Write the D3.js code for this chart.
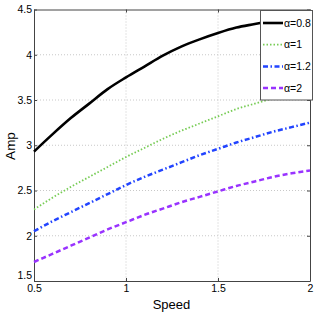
<!DOCTYPE html>
<html>
<head>
<meta charset="utf-8">
<script src="https://cdn.jsdelivr.net/npm/d3@7"></script>
<style>
  body { margin: 0; background: #fff; }
  text { font-family: "Liberation Sans", Arial, sans-serif; }
</style>
</head>
<body>
<div id="container"></div>
<script>
// Data
let speed = [0.5, 0.6, 0.7, 0.8, 0.9, 1.0, 1.1, 1.2, 1.3, 1.4, 1.5, 1.6, 1.7, 1.8, 1.9, 2.0];
let amp08 = [2.93, 3.12, 3.30, 3.46, 3.62, 3.75, 3.87, 3.99, 4.09, 4.17, 4.24, 4.30, 4.34, 4.38, 4.42, 4.45];
let amp1 = [2.29, 2.42, 2.54, 2.65, 2.76, 2.87, 2.97, 3.07, 3.16, 3.24, 3.32, 3.40, 3.46, 3.52, 3.58, 3.64];
let amp12 = [2.05, 2.16, 2.26, 2.36, 2.46, 2.56, 2.65, 2.73, 2.81, 2.89, 2.96, 3.03, 3.09, 3.15, 3.20, 3.25];
let amp2 = [1.71, 1.80, 1.89, 1.98, 2.07, 2.15, 2.23, 2.30, 2.37, 2.43, 2.49, 2.55, 2.60, 2.65, 2.69, 2.72];
let seriesNames = ["α=0.8", "α=1", "α=1.2", "α=2"];
let xTicks = [0.5, 1, 1.5, 2];
let yTicks = [1.5, 2, 2.5, 3, 3.5, 4, 4.5];

let width = 316, height = 316;
let plotLeft = 34, plotRight = 310, plotTop = 9.5, plotBottom = 281;

// line styles per series
let styles = [
  { color: "#000000", dash: null, w: 2.6 },
  { color: "#77cc55", dash: "1.5,2", w: 1.8 },
  { color: "#2244ff", dash: "5,2.5,1.5,2.5", w: 2.5 },
  { color: "#9933ff", dash: "5,3", w: 2.5 }
];
let allSeries = [amp08, amp1, amp12, amp2];

let x = d3.scaleLinear().domain([0.5, 2]).range([plotLeft, plotRight]);
let y = d3.scaleLinear().domain([1.5, 4.5]).range([plotBottom, plotTop]);

let svg = d3.create("svg")
  .attr("width", width)
  .attr("height", height);
document.getElementById("container").append(svg.node());

// grid lines
svg.append("g").selectAll("line")
  .data(xTicks.slice(1, -1))
  .enter().append("line")
  .attr("x1", d => x(d)).attr("x2", d => x(d))
  .attr("y1", plotTop).attr("y2", plotBottom)
  .attr("stroke", "#c8c8c8").attr("stroke-dasharray", "1,2");
svg.append("g").selectAll("line")
  .data(yTicks.slice(1, -1))
  .enter().append("line")
  .attr("y1", d => y(d)).attr("y2", d => y(d))
  .attr("x1", plotLeft).attr("x2", plotRight)
  .attr("stroke", "#c8c8c8").attr("stroke-dasharray", "1,2");

// axes (inward ticks)
let xAxis = svg.append("g")
  .attr("transform", `translate(0,${plotBottom})`)
  .call(d3.axisBottom(x).tickValues(xTicks).tickSizeInner(-3).tickSizeOuter(0).tickFormat(d3.format("")));
let yAxis = svg.append("g")
  .attr("transform", `translate(${plotLeft},0)`)
  .call(d3.axisLeft(y).tickValues(yTicks).tickSizeInner(-3).tickSizeOuter(0).tickFormat(d3.format("")));
svg.append("g")
  .attr("transform", `translate(0,${plotTop})`)
  .call(d3.axisTop(x).tickValues(xTicks).tickSizeInner(-3).tickSizeOuter(0).tickFormat(""));
svg.append("g")
  .attr("transform", `translate(${plotRight},0)`)
  .call(d3.axisRight(y).tickValues(yTicks).tickSizeInner(-3).tickSizeOuter(0).tickFormat(""));

svg.selectAll(".domain").attr("stroke", "#444");
svg.selectAll(".tick line").attr("stroke", "#444");
xAxis.selectAll("text").attr("font-size", 10.5).attr("fill", "#000").attr("dy", 0).attr("y", 10.5);
yAxis.selectAll("text").attr("font-size", 10.5).attr("fill", "#000").attr("x", -2)
  .attr("dy", d => d === 1.5 ? -2.2 : "0.32em");

// series lines
let line = d3.line()
  .x((d, i) => x(speed[i]))
  .y(d => y(d))
  .curve(d3.curveMonotoneX);

allSeries.forEach((s, i) => {
  svg.append("path")
    .datum(s)
    .attr("d", line)
    .attr("fill", "none")
    .attr("stroke", styles[i].color)
    .attr("stroke-width", styles[i].w)
    .attr("stroke-dasharray", styles[i].dash);
});

// axis labels
svg.append("text")
  .attr("x", 171.5).attr("y", 308.5)
  .attr("text-anchor", "middle")
  .attr("font-size", 13)
  .text("Speed");
svg.append("text")
  .attr("transform", "translate(15,146) rotate(-90)")
  .attr("text-anchor", "middle")
  .attr("font-size", 13.5)
  .text("Amp");

// legend
let legend = svg.append("g");
legend.append("rect")
  .attr("x", 260.5).attr("y", 10.5)
  .attr("width", 52).attr("height", 89.5)
  .attr("fill", "#fff").attr("stroke", "#555");
seriesNames.forEach((name, i) => {
  let ly = 23 + i * 21.7;
  legend.append("line")
    .attr("x1", 263).attr("x2", 283)
    .attr("y1", ly).attr("y2", ly)
    .attr("stroke", styles[i].color)
    .attr("stroke-width", styles[i].w)
    .attr("stroke-dasharray", styles[i].dash);
  legend.append("text")
    .attr("x", 284).attr("y", ly)
    .attr("dy", "0.35em")
    .attr("font-size", 10.5)
    .text(name);
});
</script>
</body>
</html>
